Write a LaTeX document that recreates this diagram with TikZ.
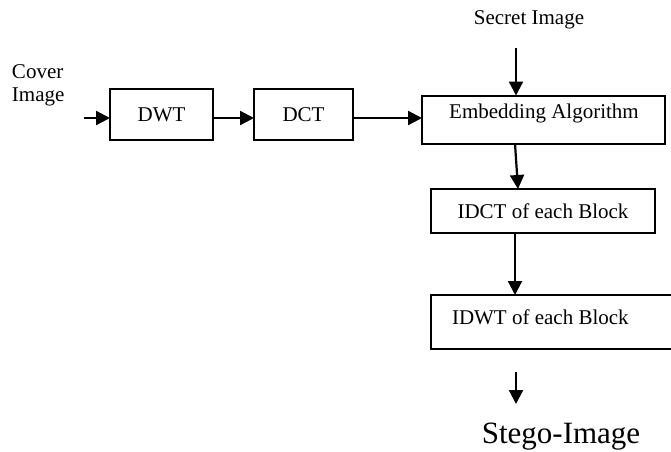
\documentclass[tikz,border=0pt]{standalone}
\usepackage{fontspec}
\setmainfont{Liberation Serif}
\usetikzlibrary{arrows.meta,calc}
\begin{document}
\begin{tikzpicture}[x=1pt,y=-1pt,
  every node/.style={font=\fontsize{21}{22}\selectfont, inner sep=0pt, outer sep=0pt},
  boxnode/.style={draw, line width=2pt, rectangle},
  arr/.style={line width=2.2pt, -{Triangle[length=14pt,width=14pt]}}]
\useasboundingbox (0,0) rectangle (671,451);
% boxes
\node[boxnode, minimum width=103, minimum height=51] (dwt) at (161.5,114.5) {};
\node[anchor=base] at (161.5,121) {DWT};
\node[boxnode, minimum width=99, minimum height=51] (dct) at (303.5,114.5) {};
\node[anchor=base] at (303.5,121) {DCT};
\node[boxnode, minimum width=243, minimum height=48] (emb) at (543.5,119.5) {};
\node[anchor=base] at (544,118) {Embedding Algorithm};
\node[boxnode, minimum width=224, minimum height=44] (idct) at (543,211) {};
\node[anchor=base] at (543,218) {IDCT of each Block};
\node[rectangle, minimum width=240, minimum height=54] (idwt) at (551,322) {};
\draw[line width=2pt] (idwt.north east) -- (idwt.north west) -- (idwt.south west) -- (idwt.south east);
\node[anchor=base west] at (452,324) {IDWT of each Block};
% texts
\node[align=left, anchor=base west] (cover) at (12,101) {Cover\\[1pt]Image};
\node[anchor=base] (secret) at (529,24) {Secret Image};
\node[anchor=base, font=\fontsize{31}{33}\selectfont] (stego) at (561,443) {Stego-Image};
% connector coordinates
\coordinate (c0) at (84,118);
\coordinate (s0) at (516,48);
\coordinate (e0) at (515,143.5);
\coordinate (e1) at (518,189);
\coordinate (i0) at (515,233);
\coordinate (i1) at (515,295);
\coordinate (o0) at (516,372);
\coordinate (o1) at (516,404);
% arrows
\draw[arr] (c0) -- (c0 -| dwt.west);
\draw[arr] (dwt.east |- c0) -- (dct.west |- c0);
\draw[arr] (dct.east |- c0) -- (emb.west |- c0);
\draw[arr] (s0) -- (s0 |- emb.north);
\draw[arr] (e0) -- (e1);
\draw[arr] (i0) -- (i1);
\draw[arr] (o0) -- (o1);
\end{tikzpicture}
\end{document}
